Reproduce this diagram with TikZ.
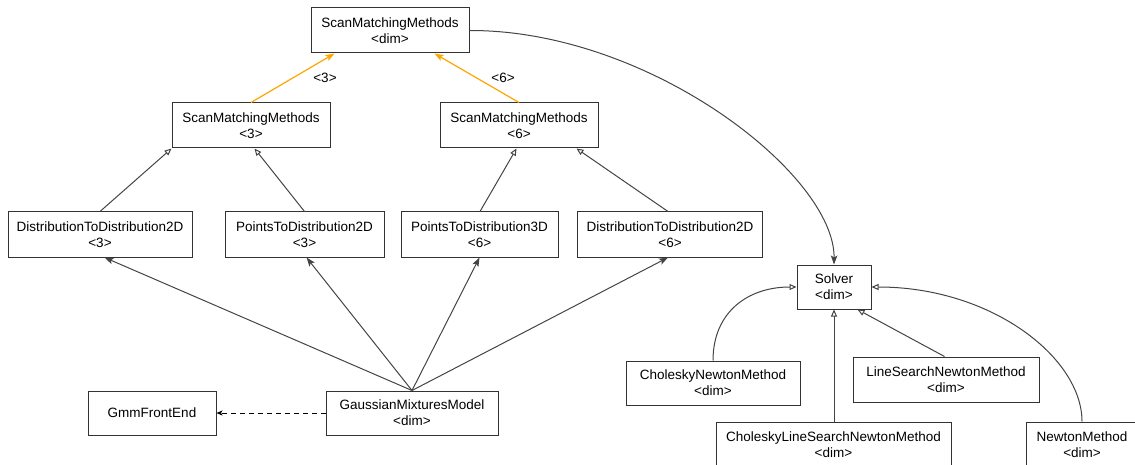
\documentclass[tikz,border=0pt]{standalone}
\usepackage{fontspec}
\setmainfont{Liberation Sans}
\usetikzlibrary{arrows.meta,calc}
\definecolor{edgec}{HTML}{444444}
\definecolor{boxc}{HTML}{333333}
\definecolor{orangec}{HTML}{FFA500}
\begin{document}
\begin{tikzpicture}[x=1pt,y=-1pt,
  cls/.style={draw=boxc, line width=1pt, fill=white, inner sep=0pt, align=center,
              font=\fontsize{13.5}{16}\selectfont, minimum height=45pt},
  lbl/.style={inner sep=0pt, font=\fontsize{13.5}{16}\selectfont},
  inh/.style={draw=edgec, line width=1pt, -{Triangle[open,length=7pt,width=6pt]}},
  dep/.style={draw=edgec, line width=1pt, -{Stealth[length=9pt,width=6.5pt,inset=2pt]}},
  tmpl/.style={draw=orangec, line width=1.2pt, -{Stealth[length=9pt,width=6.5pt,inset=2pt]}},
  use/.style={draw=black, line width=1pt, dash pattern=on 5pt off 4pt, -{Stealth[length=6pt,width=5pt,inset=1.5pt]}}]
\useasboundingbox (0,0) rectangle (1135,465);
% nodes
\node[cls, minimum width=158pt] (smmdim) at (390,30.5) {ScanMatchingMethods\\<dim>};
\node[cls, minimum width=158pt] (smm3) at (251,125.5) {ScanMatchingMethods\\<3>};
\node[cls, minimum width=158pt] (smm6) at (519,125.5) {ScanMatchingMethods\\<6>};
\node[cls, minimum width=184pt] (dtd3) at (100,234.5) {DistributionToDistribution2D\\<3>};
\node[cls, minimum width=159pt] (ptd3) at (304.5,234.5) {PointsToDistribution2D\\<3>};
\node[cls, minimum width=157pt] (ptd6) at (479.5,234.5) {PointsToDistribution3D\\<6>};
\node[cls, minimum width=185pt] (dtd6) at (670,234.5) {DistributionToDistribution2D\\<6>};
\node[cls, minimum width=74pt, minimum height=44pt] (solver) at (834,287) {Solver\\<dim>};
\node[cls, minimum width=174pt, minimum height=44pt] (cnm) at (713,383) {CholeskyNewtonMethod\\<dim>};
\node[cls, minimum width=186pt] (lsnm) at (946,379.5) {LineSearchNewtonMethod\\<dim>};
\node[cls, minimum width=235pt] (clsnm) at (833.5,444.5) {CholeskyLineSearchNewtonMethod\\<dim>};
\node[cls, minimum width=112pt] (nm) at (1082,444.5) {NewtonMethod\\<dim>};
\node[cls, minimum width=172pt, minimum height=44pt] (gmm) at (412,413) {GaussianMixturesModel\\<dim>};
\node[cls, minimum width=128pt, minimum height=44pt] (gfe) at (152,413) {GmmFrontEnd};
% labels
\node[lbl] (l3) at (325,78) {<3>};
\node[lbl] (l6) at (503,78) {<6>};
% template bindings
\draw[tmpl] (smm3.north) -- ($(smmdim.south west)+(24,0)$);
\draw[tmpl] (smm6.north) -- ($(smmdim.south west)+(124,0)$);
% inheritance
\draw[inh] (dtd3.north) -- (smm3.south west);
\draw[inh] (ptd3.north) -- ($(smm3.south west)+(83,0)$);
\draw[inh] ($(ptd6.north)+(0.5,0)$) -- ($(smm6.south west)+(77,0)$);
\draw[inh] ($(dtd6.north)+(-2,0)$) -- ($(smm6.south west)+(137,0)$);
% gmm dependencies
\draw[dep] (gmm.north) -- ($(dtd3.south west)+(97,0)$);
\draw[dep] (gmm.north) -- ($(ptd3.south west)+(82,0)$);
\draw[dep] (gmm.north) -- ($(ptd6.south west)+(79,0)$);
\draw[dep] (gmm.north) -- ($(dtd6.south west)+(91,0)$);
\draw[use] (gmm.west) -- (gfe.east);
% solver
\draw[dep] (smmdim.east) .. controls (650,30) and (835,175) .. (solver.north);
\draw[inh] (cnm.north) .. controls (713,312) and (748,287) .. (solver.west);
\draw[inh] (nm.north) .. controls (1082,358) and (992,287) .. (solver.east);
\draw[inh] ($(clsnm.north)+(0.5,0)$) -- (solver.south);
\draw[inh] ($(lsnm.north west)+(92,0)$) -- ($(solver.south west)+(61,0)$);
\end{tikzpicture}
\end{document}
